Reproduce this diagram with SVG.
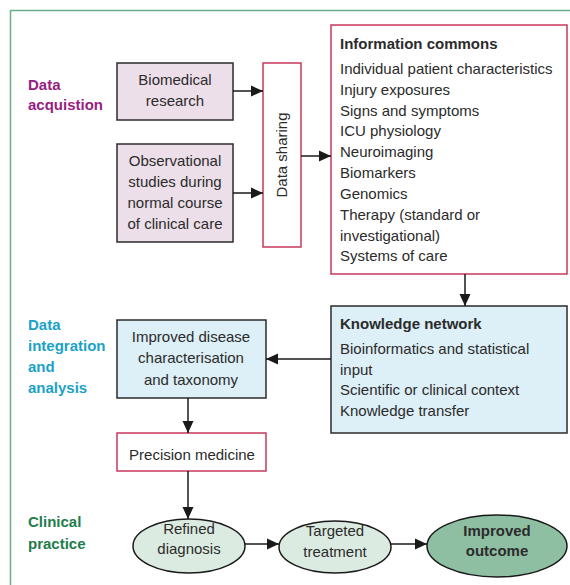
<svg xmlns="http://www.w3.org/2000/svg" width="570" height="585" viewBox="0 0 570 585">
<defs>
<marker id="ah" markerUnits="userSpaceOnUse" markerWidth="12" markerHeight="12" viewBox="0 0 12 12" refX="12" refY="6" orient="auto">
<path d="M0,0.5 L12,6 L0,11.5 Z" fill="#1a1a1a"/>
</marker>
<style>
text{font-family:"Liberation Sans",Arial,sans-serif;font-size:15px;fill:#2b2b2b}
.b{font-weight:bold}
.c{text-anchor:middle}
.lab{font-weight:bold}
.pur{fill:#98207f}
.cy{fill:#1aa2c8}
.gr{fill:#1f7d4d}
.pink{fill:#eddfe9;stroke:#2b2b2b;stroke-width:1.5}
.red{fill:#fff;stroke:#c8385c;stroke-width:1.5}
.blue{fill:#ddeff7;stroke:#2b2b2b;stroke-width:1.5}
.ell{fill:#dcebe2;stroke:#1a1a1a;stroke-width:1.5}
.ell2{fill:#8fbfa3;stroke:#1a1a1a;stroke-width:1.5}
.con{stroke:#1a1a1a;stroke-width:1.5;fill:none;marker-end:url(#ah)}
</style>
</defs>
<rect x="10.5" y="10.5" width="600" height="600" fill="#fff" stroke="#6aae8a" stroke-width="1.5"/>

<g id="label-acquisition">
<text class="lab pur" x="28" y="90">Data</text>
<text class="lab pur" x="28" y="110">acquistion</text>
</g>
<g id="label-integration">
<text class="lab cy" x="28" y="330">Data</text>
<text class="lab cy" x="28" y="351">integration</text>
<text class="lab cy" x="28" y="372">and</text>
<text class="lab cy" x="28" y="393">analysis</text>
</g>
<g id="label-clinical">
<text class="lab gr" x="28" y="527">Clinical</text>
<text class="lab gr" x="28" y="549">practice</text>
</g>

<g id="biomedical">
<rect class="pink" x="117" y="63" width="116" height="57"/>
<text class="c" x="175" y="85">Biomedical</text>
<text class="c" x="175" y="106">research</text>
</g>
<g id="observational">
<rect class="pink" x="117" y="144" width="116" height="98"/>
<text class="c" x="175" y="166">Observational</text>
<text class="c" x="175" y="187">studies during</text>
<text class="c" x="175" y="208">normal course</text>
<text class="c" x="175" y="229">of clinical care</text>
</g>
<g id="data-sharing">
<rect class="red" x="263" y="63" width="38" height="184"/>
<text class="c" transform="translate(287,155) rotate(-90)" x="0" y="0">Data sharing</text>
</g>
<g id="information-commons">
<rect class="red" x="331" y="25" width="236" height="249"/>
<text class="b" x="340" y="49">Information commons</text>
<text x="340" y="74">Individual patient characteristics</text>
<text x="340" y="95">Injury exposures</text>
<text x="340" y="116">Signs and symptoms</text>
<text x="340" y="136">ICU physiology</text>
<text x="340" y="157">Neuroimaging</text>
<text x="340" y="178">Biomarkers</text>
<text x="340" y="199">Genomics</text>
<text x="340" y="220">Therapy (standard or</text>
<text x="340" y="241">investigational)</text>
<text x="340" y="261">Systems of care</text>
</g>
<g id="knowledge-network">
<rect class="blue" x="331" y="306" width="236" height="127"/>
<text class="b" x="340" y="329">Knowledge network</text>
<text x="340" y="354">Bioinformatics and statistical</text>
<text x="340" y="375">input</text>
<text x="340" y="395">Scientific or clinical context</text>
<text x="340" y="416">Knowledge transfer</text>
</g>
<g id="improved-disease">
<rect class="blue" x="117" y="320" width="149" height="78"/>
<text class="c" x="191" y="342">Improved disease</text>
<text class="c" x="191" y="363">characterisation</text>
<text class="c" x="191" y="385">and taxonomy</text>
</g>
<g id="precision-medicine">
<rect class="red" x="117" y="433" width="149" height="38"/>
<text class="c" x="192" y="460">Precision medicine</text>
</g>
<g id="refined-diagnosis">
<ellipse class="ell" cx="189" cy="546" rx="56" ry="27"/>
<text class="c" x="189" y="534">Refined</text>
<text class="c" x="189" y="554">diagnosis</text>
</g>
<g id="targeted-treatment">
<ellipse class="ell" cx="335" cy="547" rx="56" ry="26"/>
<text class="c" x="335" y="536">Targeted</text>
<text class="c" x="335" y="557">treatment</text>
</g>
<g id="improved-outcome">
<ellipse class="ell2" cx="497" cy="546" rx="70" ry="31"/>
<text class="c b" x="497" y="536">Improved</text>
<text class="c b" x="497" y="556">outcome</text>
</g>

<g id="connectors">
<line class="con" x1="233" y1="91" x2="263" y2="91"/>
<line class="con" x1="233" y1="193" x2="263" y2="193"/>
<line class="con" x1="301" y1="156" x2="331" y2="156"/>
<line class="con" x1="465" y1="274" x2="465" y2="306"/>
<line class="con" x1="331" y1="359" x2="266" y2="359"/>
<line class="con" x1="188" y1="398" x2="188" y2="433"/>
<line class="con" x1="188" y1="471" x2="188" y2="519"/>
<line class="con" x1="245" y1="544" x2="279" y2="544"/>
<line class="con" x1="391" y1="544" x2="427" y2="544"/>
</g>
</svg>
